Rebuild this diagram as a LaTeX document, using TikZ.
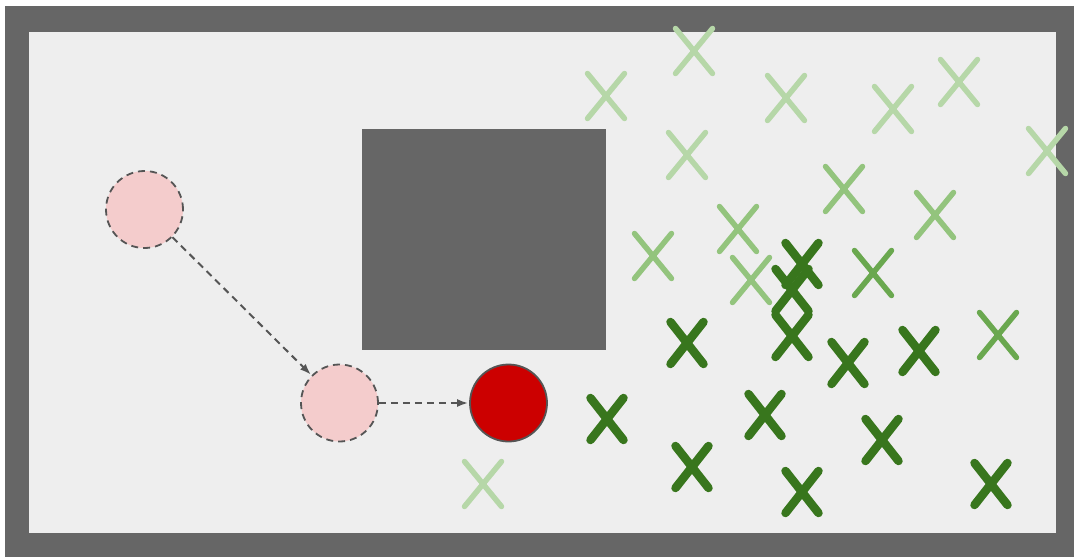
\documentclass[tikz,border=0pt]{standalone}
\usetikzlibrary{arrows.meta}
\definecolor{wallgray}{HTML}{666666}
\definecolor{floorgray}{HTML}{EEEEEE}
\definecolor{edgegray}{HTML}{555555}
\definecolor{ghostpink}{HTML}{F4CCCC}
\definecolor{robotred}{HTML}{CC0000}
\definecolor{gA}{HTML}{B6D7A8}
\definecolor{gB}{HTML}{93C47D}
\definecolor{gC}{HTML}{6AA84F}
\definecolor{gD}{HTML}{38761D}
\tikzset{
  ghost/.style={circle, fill=ghostpink, draw=edgegray, line width=1.8pt, dash pattern=on 7pt off 5pt, minimum size=77pt, inner sep=0pt},
  robot/.style={circle, fill=robotred, draw=edgegray, line width=1.8pt, minimum size=77pt, inner sep=0pt},
  move/.style={draw=edgegray, line width=2pt, dash pattern=on 7pt off 5pt, -{Latex[length=11pt,width=8pt]}, shorten >=1pt},
  xmk/.pic={\draw[line cap=round] (-18.5,-22.5) -- (18.5,22.5) (-18.5,22.5) -- (18.5,-22.5);},
  xmkd/.pic={\draw[line cap=round] (-16.5,-21) -- (16.5,21) (-16.5,21) -- (16.5,-21);},
  xlight/.style={draw=gA, line width=5.5pt},
  xmid/.style={draw=gB, line width=5.5pt},
  xmidd/.style={draw=gC, line width=5.5pt},
  xdark/.style={draw=gD, line width=8.5pt},
}
\begin{document}
\begin{tikzpicture}[x=1pt,y=-1pt]
\useasboundingbox (0,0) rectangle (1074,557);
% walls
\fill[wallgray] (5,6) rectangle (1074,557);
\fill[floorgray] (29,32) rectangle (1056,533);
% obstacle
\node[fill=wallgray, minimum width=244pt, minimum height=221pt, inner sep=0pt, draw=none] (obstacle) at (484,239.5) {};
% robots
\node[ghost] (g1) at (144.5,209.5) {};
\node[ghost] (g2) at (339.5,403) {};
\node[robot] (r) at (508.5,403) {};
\draw[move] (g1) -- (g2);
\draw[move] (g2) -- (r);
% light crosses
\foreach \p in {(606,96),(694,51),(786,98),(687,155),(893,109),(959,82),(1047,151),(483,484)}
  \pic[xlight] at \p {xmk};
% medium crosses
\foreach \p in {(844,189),(935,215),(653,256),(738,229),(751,280)}
  \pic[xmid] at \p {xmk};
\foreach \p in {(873,273),(998,335)}
  \pic[xmidd] at \p {xmk};
% dark crosses
\foreach \p in {(802,264),(792,290),(792,336),(687,343),(848,363),(919,351),(882,440),(802,492),(991,484),(607,419),(692,467),(765,415)}
  \pic[xdark] at \p {xmkd};
\end{tikzpicture}
\end{document}
